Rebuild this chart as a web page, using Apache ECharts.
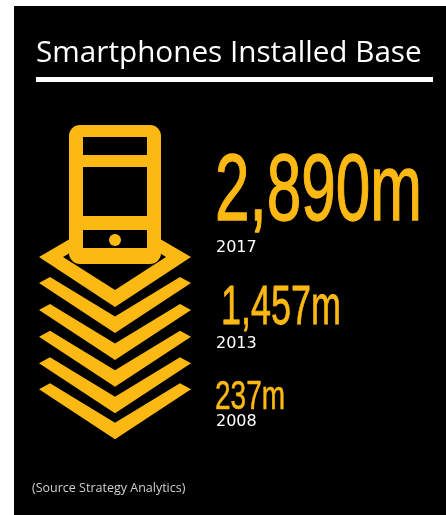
<!DOCTYPE html>
<html><head><meta charset="utf-8">
<style>html,body{margin:0;padding:0;background:#fff}#c{width:446px;height:515px}</style>
<script src="https://cdn.jsdelivr.net/npm/echarts@6/dist/echarts.min.js"></script>
</head><body><div id="c"></div>
<script>
const titleText = "Smartphones Installed Base";
const sourceText = "(Source Strategy Analytics)";
const years = ["2017", "2013", "2008"];
const valuesMillions = [2890, 1457, 237];
const valueSuffix = "m";
const YELLOW = "#FDB913";

const chart = echarts.init(document.getElementById("c"), null, {renderer: "canvas"});
const ctx = document.createElement("canvas").getContext("2d");

// layout of the three value blocks: left, digit-top y, baseline y, ink width
const blocks = [
  {x: 215, top: 153, base: 219, w: 207, yearX: 216, yearY: 247.5},
  {x: 221, top: 284, base: 323, w: 120, yearX: 216, yearY: 343.5},
  {x: 215, top: 380, base: 409, w: 70,  yearX: 216, yearY: 421.5}
];
function condensed(str, b) {
  const size = (b.base - b.top) / 0.70;
  const font = `400 ${size}px "Liberation Sans"`;
  ctx.font = font;
  const sx = b.w / ctx.measureText(str).width;
  return {type: "text", x: b.x, y: b.top - size * 0.068, scaleX: sx, originX: 0, originY: 0,
    style: {text: str, font, fill: YELLOW, stroke: YELLOW, lineWidth: size * 0.014,
            textAlign: "left", textVerticalAlign: "top"}};
}
function poly(points, fill) { return {type: "polygon", shape: {points}, style: {fill}}; }

const els = [];
els.push({type: "rect", shape: {x: 14, y: 6, width: 432, height: 509}, style: {fill: "#000"}});
els.push({type: "text", x: 36, y: 54, style: {text: titleText, font: '400 29.7px "Open Sans"', fill: "#fff", textAlign: "left", textVerticalAlign: "middle"}});
els.push({type: "rect", shape: {x: 36, y: 77, width: 397, height: 5}, style: {fill: "#fff"}});

// lower chevrons of the stack
[283, 310, 336.7, 363.2, 389.3].forEach(t => {
  els.push(poly([[39, t], [50, t - 6], [115, t + 33.5], [180, t - 6], [191, t], [115, t + 50]], YELLOW));
});
// top diamond
els.push(poly([[39, 257], [75, 236], [155, 236], [191, 257], [115, 307]], YELLOW));
els.push(poly([[63, 257], [75, 250], [155, 250], [166, 257], [115, 290]], "#000"));
// phone
els.push({type: "rect", shape: {x: 69, y: 125, width: 92, height: 139, r: 11}, style: {fill: YELLOW}});
[[137, 18], [167, 49], [230, 18]].forEach(([y, h]) => {
  els.push({type: "rect", shape: {x: 83, y, width: 64, height: h}, style: {fill: "#000"}});
});
els.push({type: "circle", shape: {cx: 115, cy: 240, r: 6}, style: {fill: YELLOW}});

// values and years
valuesMillions.forEach((v, i) => {
  const b = blocks[i];
  els.push(condensed(v.toLocaleString("en-US") + valueSuffix, b));
  els.push({type: "text", x: b.yearX, y: b.yearY, style: {text: years[i], font: '400 16px "DejaVu Sans"', fill: "#fff", textAlign: "left", textVerticalAlign: "middle"}});
});
els.push({type: "text", x: 32, y: 488, style: {text: sourceText, font: '400 12.5px "Open Sans"', fill: "#d0d0d0", textAlign: "left", textVerticalAlign: "middle"}});

chart.setOption({animation: false, backgroundColor: "#fff", graphic: {elements: els}});
</script></body></html>
